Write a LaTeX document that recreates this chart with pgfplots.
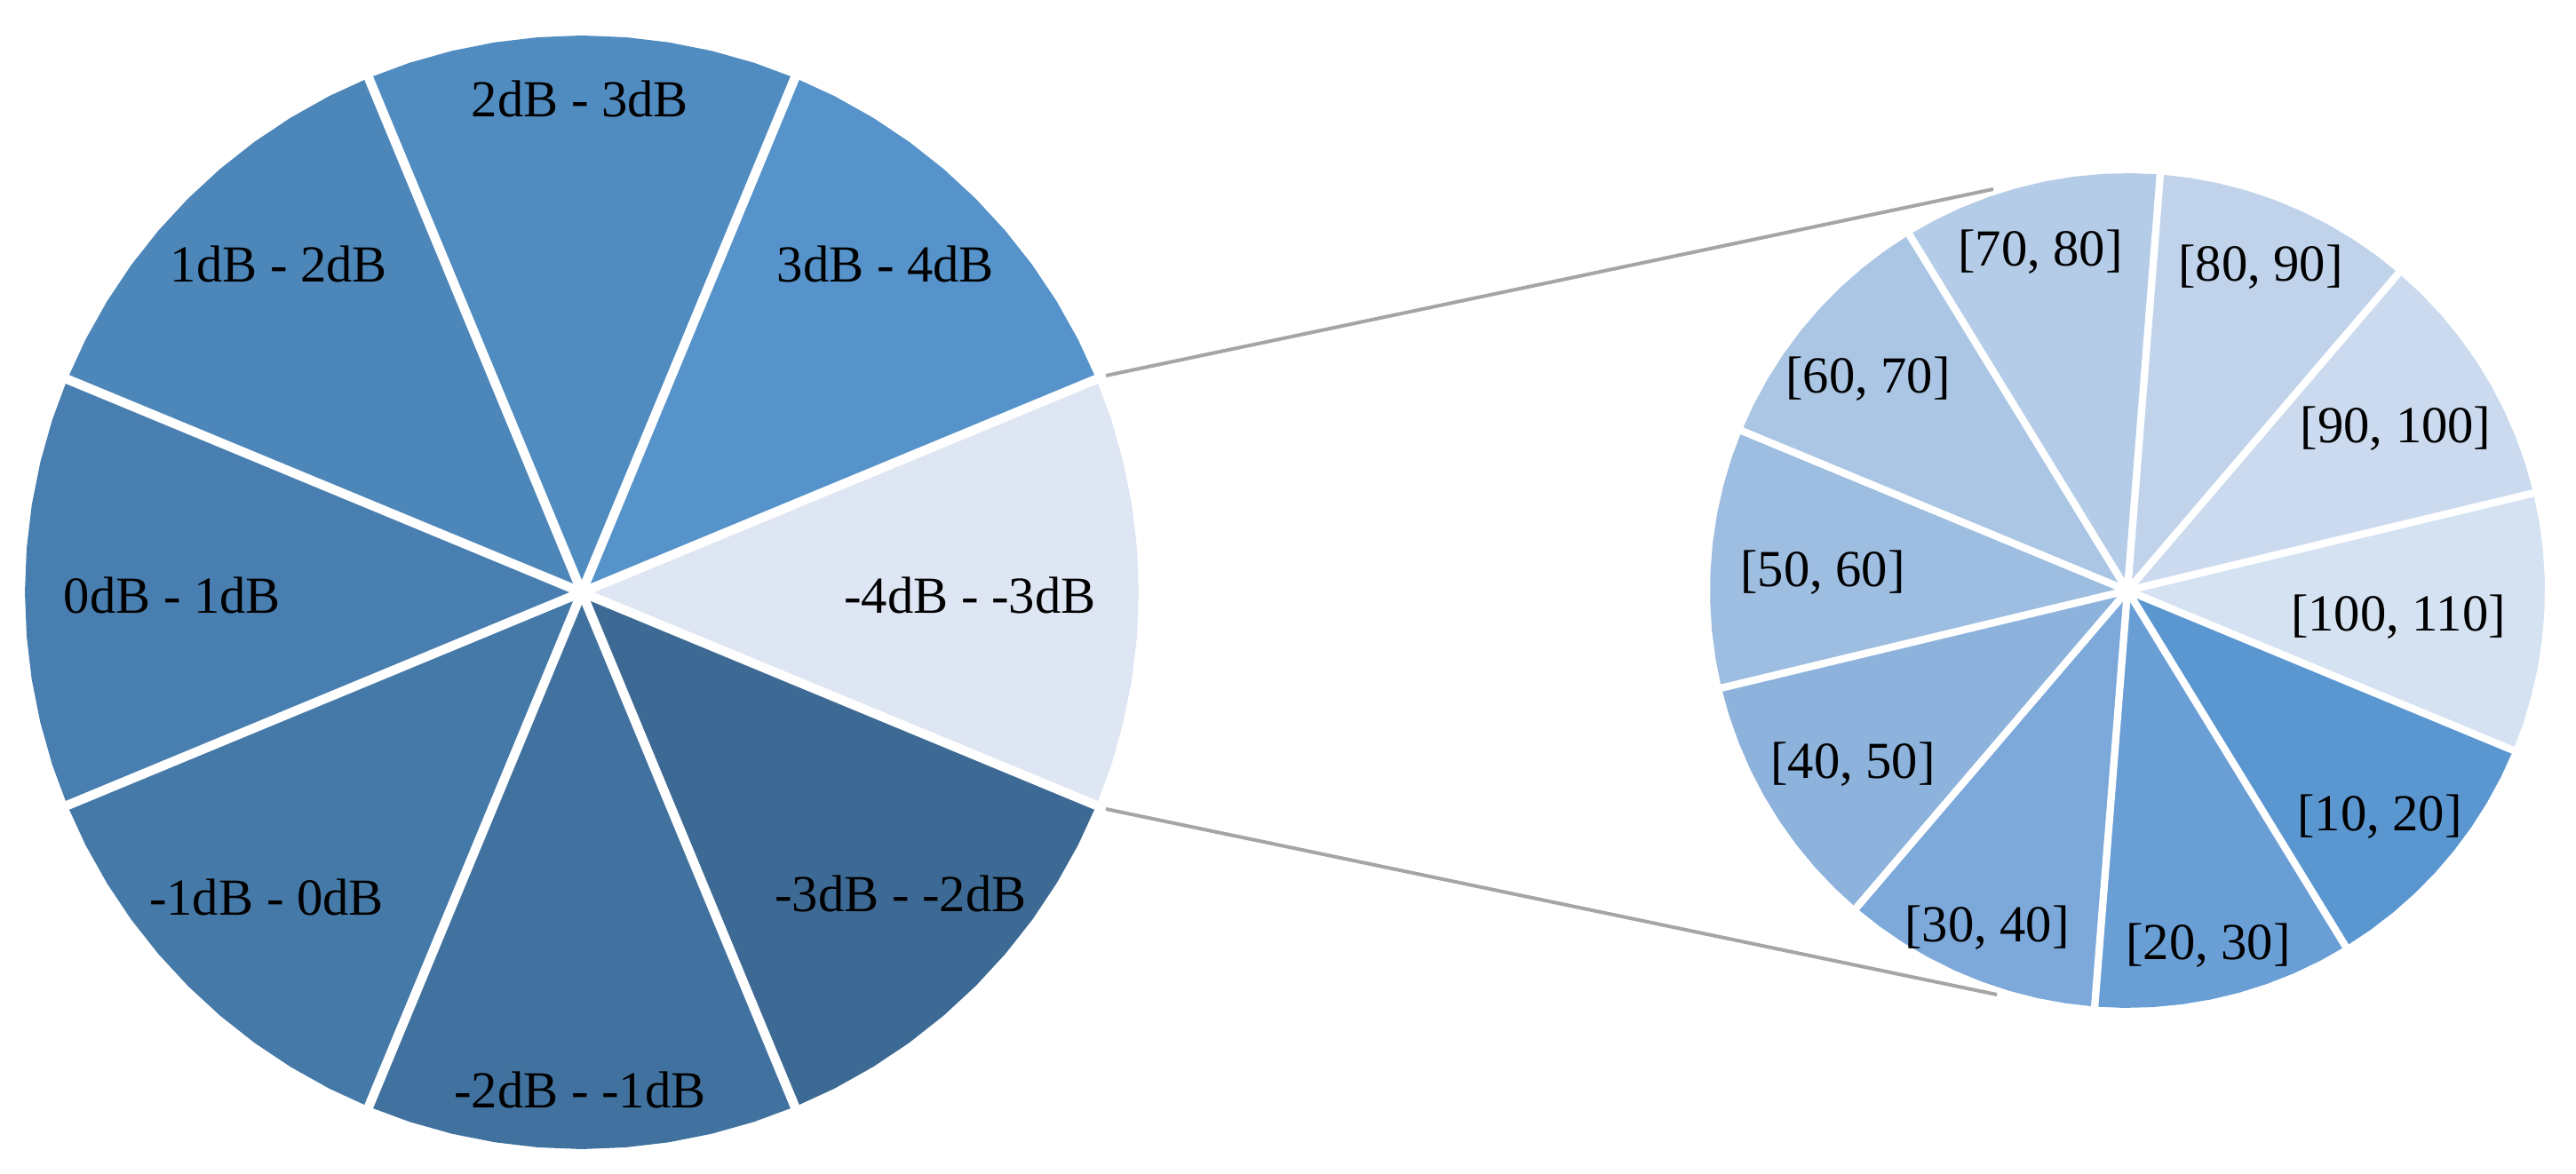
\documentclass[border=0pt]{standalone}
\usepackage{fontspec}
\setmainfont{Liberation Serif}
\usepackage{pgfplots}
\pgfplotsset{compat=1.18}
\usepgfplotslibrary{polar}
% left pie colours
\definecolor{cA}{RGB}{222,230,243}
\definecolor{cB}{RGB}{85,147,202}
\definecolor{cC}{RGB}{81,140,193}
\definecolor{cD}{RGB}{77,134,185}
\definecolor{cE}{RGB}{73,127,176}
\definecolor{cF}{RGB}{69,121,168}
\definecolor{cG}{RGB}{65,114,159}
\definecolor{cH}{RGB}{61,106,148}
% right pie colours
\definecolor{r1}{RGB}{90,151,209}
\definecolor{r2}{RGB}{106,159,214}
\definecolor{r3}{RGB}{124,169,218}
\definecolor{r4}{RGB}{141,179,221}
\definecolor{r5}{RGB}{157,189,225}
\definecolor{r6}{RGB}{171,198,228}
\definecolor{r7}{RGB}{181,204,232}
\definecolor{r8}{RGB}{192,211,235}
\definecolor{r9}{RGB}{203,218,238}
\definecolor{r10}{RGB}{213,226,242}
\definecolor{leader}{RGB}{165,165,165}
\begin{document}
\begin{tikzpicture}
\pgfplotsset{piebase/.style={x=0.06mm, y=0.06mm, hide axis, clip=false,
  at={(0,0)}, anchor=south west,
  every node/.append style={font=\fontsize{10.8}{12}\selectfont, text=black, inner sep=0pt}}}
% ---------- left pie (origin at its centre) ----------
\begin{axis}[piebase, xmin=-655, xmax=2245, ymin=-655, ymax=667]
\addplot[draw=none, forget plot] coordinates {(-655,-655) (2245,667)};
\addplot[fill=cA, draw=none, data cs=polar] coordinates {(0,0) (-22.5,627) (-18,627) (-13.5,627) (-9,627) (-4.5,627) (0,627) (4.5,627) (9,627) (13.5,627) (18,627) (22.5,627)};
\addplot[fill=cB, draw=none, data cs=polar] coordinates {(0,0) (22.5,627) (27,627) (31.5,627) (36,627) (40.5,627) (45,627) (49.5,627) (54,627) (58.5,627) (63,627) (67.5,627)};
\addplot[fill=cC, draw=none, data cs=polar] coordinates {(0,0) (67.5,627) (72,627) (76.5,627) (81,627) (85.5,627) (90,627) (94.5,627) (99,627) (103.5,627) (108,627) (112.5,627)};
\addplot[fill=cD, draw=none, data cs=polar] coordinates {(0,0) (112.5,627) (117,627) (121.5,627) (126,627) (130.5,627) (135,627) (139.5,627) (144,627) (148.5,627) (153,627) (157.5,627)};
\addplot[fill=cE, draw=none, data cs=polar] coordinates {(0,0) (157.5,627) (162,627) (166.5,627) (171,627) (175.5,627) (180,627) (184.5,627) (189,627) (193.5,627) (198,627) (202.5,627)};
\addplot[fill=cF, draw=none, data cs=polar] coordinates {(0,0) (202.5,627) (207,627) (211.5,627) (216,627) (220.5,627) (225,627) (229.5,627) (234,627) (238.5,627) (243,627) (247.5,627)};
\addplot[fill=cG, draw=none, data cs=polar] coordinates {(0,0) (247.5,627) (252,627) (256.5,627) (261,627) (265.5,627) (270,627) (274.5,627) (279,627) (283.5,627) (288,627) (292.5,627)};
\addplot[fill=cH, draw=none, data cs=polar] coordinates {(0,0) (292.5,627) (297,627) (301.5,627) (306,627) (310.5,627) (315,627) (319.5,627) (324,627) (328.5,627) (333,627) (337.5,627)};
% separators
\addplot[white, line width=0.63mm, data cs=polar] coordinates {(22.5,0) (22.5,640)};
\addplot[white, line width=0.63mm, data cs=polar] coordinates {(67.5,0) (67.5,640)};
\addplot[white, line width=0.63mm, data cs=polar] coordinates {(112.5,0) (112.5,640)};
\addplot[white, line width=0.63mm, data cs=polar] coordinates {(157.5,0) (157.5,640)};
\addplot[white, line width=0.63mm, data cs=polar] coordinates {(202.5,0) (202.5,640)};
\addplot[white, line width=0.63mm, data cs=polar] coordinates {(247.5,0) (247.5,640)};
\addplot[white, line width=0.63mm, data cs=polar] coordinates {(292.5,0) (292.5,640)};
\addplot[white, line width=0.63mm, data cs=polar] coordinates {(337.5,0) (337.5,640)};
% leader lines
\addplot[leader, line width=0.24mm] coordinates {(590,244) (1589,454)};
\addplot[leader, line width=0.24mm] coordinates {(590,-244) (1593,-453)};
% labels
\node at (axis cs:-2,556) {2dB - 3dB};
\node at (axis cs:-341,370) {1dB - 2dB};
\node at (axis cs:342,370) {3dB - 4dB};
\node at (axis cs:-461,-3) {0dB - 1dB};
\node at (axis cs:437,-3) {-4dB - -3dB};
\node at (axis cs:-355,-343) {-1dB - 0dB};
\node at (axis cs:359,-339) {-3dB - -2dB};
\node at (axis cs:-2,-560) {-2dB - -1dB};
\end{axis}
% ---------- right pie (origin at its centre) ----------
\begin{axis}[piebase, xmin=-2395, xmax=505, ymin=-657, ymax=665]
\addplot[fill=r7, draw=none, data cs=polar] coordinates {(0,0) (85.5,470) (89.5,470) (93.5,470) (97.5,470) (101.5,470) (105.5,470) (109.5,470) (113.5,470) (117.5,470) (121.5,470)};
\addplot[fill=r8, draw=none, data cs=polar] coordinates {(0,0) (49.5,470) (53.5,470) (57.5,470) (61.5,470) (65.5,470) (69.5,470) (73.5,470) (77.5,470) (81.5,470) (85.5,470)};
\addplot[fill=r9, draw=none, data cs=polar] coordinates {(0,0) (13.5,470) (17.5,470) (21.5,470) (25.5,470) (29.5,470) (33.5,470) (37.5,470) (41.5,470) (45.5,470) (49.5,470)};
\addplot[fill=r10, draw=none, data cs=polar] coordinates {(0,0) (-22.5,470) (-18.5,470) (-14.5,470) (-10.5,470) (-6.5,470) (-2.5,470) (1.5,470) (5.5,470) (9.5,470) (13.5,470)};
\addplot[fill=r1, draw=none, data cs=polar] coordinates {(0,0) (-58.5,470) (-54.5,470) (-50.5,470) (-46.5,470) (-42.5,470) (-38.5,470) (-34.5,470) (-30.5,470) (-26.5,470) (-22.5,470)};
\addplot[fill=r2, draw=none, data cs=polar] coordinates {(0,0) (-94.5,470) (-90.5,470) (-86.5,470) (-82.5,470) (-78.5,470) (-74.5,470) (-70.5,470) (-66.5,470) (-62.5,470) (-58.5,470)};
\addplot[fill=r3, draw=none, data cs=polar] coordinates {(0,0) (-130.5,470) (-126.5,470) (-122.5,470) (-118.5,470) (-114.5,470) (-110.5,470) (-106.5,470) (-102.5,470) (-98.5,470) (-94.5,470)};
\addplot[fill=r4, draw=none, data cs=polar] coordinates {(0,0) (-166.5,470) (-162.5,470) (-158.5,470) (-154.5,470) (-150.5,470) (-146.5,470) (-142.5,470) (-138.5,470) (-134.5,470) (-130.5,470)};
\addplot[fill=r5, draw=none, data cs=polar] coordinates {(0,0) (157.5,470) (161.5,470) (165.5,470) (169.5,470) (173.5,470) (177.5,470) (181.5,470) (185.5,470) (189.5,470) (193.5,470)};
\addplot[fill=r6, draw=none, data cs=polar] coordinates {(0,0) (121.5,470) (125.5,470) (129.5,470) (133.5,470) (137.5,470) (141.5,470) (145.5,470) (149.5,470) (153.5,470) (157.5,470)};
% separators
\addplot[white, line width=0.5mm, data cs=polar] coordinates {(85.5,0) (85.5,482)};
\addplot[white, line width=0.5mm, data cs=polar] coordinates {(49.5,0) (49.5,482)};
\addplot[white, line width=0.5mm, data cs=polar] coordinates {(13.5,0) (13.5,482)};
\addplot[white, line width=0.5mm, data cs=polar] coordinates {(-22.5,0) (-22.5,482)};
\addplot[white, line width=0.5mm, data cs=polar] coordinates {(-58.5,0) (-58.5,482)};
\addplot[white, line width=0.5mm, data cs=polar] coordinates {(-94.5,0) (-94.5,482)};
\addplot[white, line width=0.5mm, data cs=polar] coordinates {(-130.5,0) (-130.5,482)};
\addplot[white, line width=0.5mm, data cs=polar] coordinates {(-166.5,0) (-166.5,482)};
\addplot[white, line width=0.5mm, data cs=polar] coordinates {(157.5,0) (157.5,482)};
\addplot[white, line width=0.5mm, data cs=polar] coordinates {(121.5,0) (121.5,482)};
% labels
\node at (axis cs:-98,381) {[70, 80]};
\node at (axis cs:150,364) {[80, 90]};
\node at (axis cs:-292,238) {[60, 70]};
\node at (axis cs:302,182) {[90, 100]};
\node at (axis cs:-343,20) {[50, 60]};
\node at (axis cs:305,-30) {[100, 110]};
\node at (axis cs:-309,-196) {[40, 50]};
\node at (axis cs:284,-255) {[10, 20]};
\node at (axis cs:-158,-380) {[30, 40]};
\node at (axis cs:91,-400) {[20, 30]};
\end{axis}
\end{tikzpicture}
\end{document}
